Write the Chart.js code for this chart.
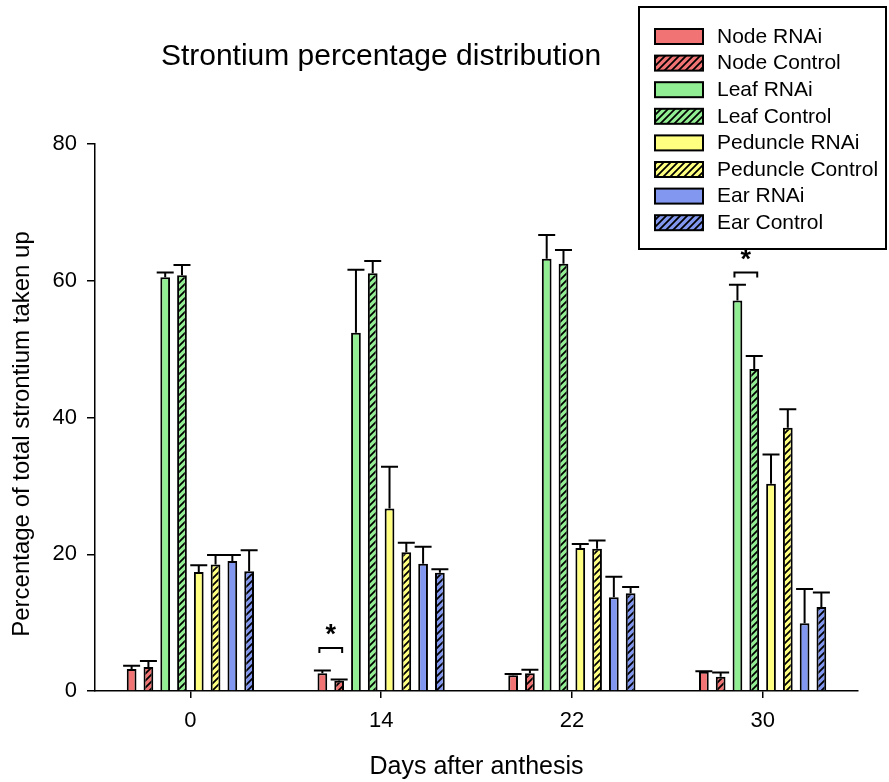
<!DOCTYPE html>
<html>
<head>
<meta charset="utf-8">
<script src="https://cdn.jsdelivr.net/npm/chart.js@4.4.1/dist/chart.umd.min.js"></script>
<style>
  body { margin: 0; background: #fff; }
  #wrap { width: 889px; height: 782px; }
</style>
</head>
<body>
<div id="wrap"><canvas id="sr-chart"></canvas></div>
<script>
// data
const days = ['0', '14', '22', '30'];

const nodeRnai = [3.2, 2.6, 2.3, 2.8];
const nodeControl = [3.5, 1.5, 2.6, 2.1];
const leafRnai = [60.5, 52.4, 63.2, 57.1];
const leafControl = [60.8, 61.1, 62.5, 47.1];
const peduncleRnai = [17.4, 26.7, 20.9, 30.3];
const peduncleControl = [18.5, 20.3, 20.8, 38.5];
const earRnai = [19.0, 18.6, 13.7, 9.9];
const earControl = [17.5, 17.3, 14.3, 12.3];

// upper error (SE) for each series
const nodeRnaiErr = [0.5, 0.4, 0.2, 0.1];
const nodeControlErr = [0.9, 0.2, 0.5, 0.6];
const leafRnaiErr = [0.7, 9.2, 3.5, 2.3];
const leafControlErr = [1.5, 1.8, 2.0, 1.9];
const peduncleRnaiErr = [1.0, 6.1, 0.6, 4.3];
const peduncleControlErr = [1.4, 1.4, 1.2, 2.7];
const earRnaiErr = [0.9, 2.5, 3.0, 5.0];
const earControlErr = [3.1, 0.5, 0.9, 2.1];

// significance marks: category index, the two datasets, bracket height
const sigCategory = [1, 3];
const sigPairA = [0, 2];
const sigPairB = [1, 3];
const sigLevel = [6.3, 61.2];

const chartTitle = 'Strontium percentage distribution';
const yTitle = 'Percentage of total strontium taken up';
const xTitle = 'Days after anthesis';

const RED = '#f27373';
const GREEN = '#92ee92';
const YELLOW = '#ffff80';
const BLUE = '#8298f0';
const FONT = '"Liberation Sans", Arial, sans-serif';

// diagonal hatch like the "Control" bars
function hatch(color) {
    const s = 7;
    const c = document.createElement('canvas');
    c.width = s; c.height = s;
    const g = c.getContext('2d');
    g.fillStyle = color;
    g.fillRect(0, 0, s, s);
    g.strokeStyle = '#000';
    g.lineWidth = 1.8;
    g.beginPath();
    g.moveTo(0, s); g.lineTo(s, 0);
    g.moveTo(-2, 2); g.lineTo(2, -2);
    g.moveTo(s - 2, s + 2); g.lineTo(s + 2, s - 2);
    g.stroke();
    return g.createPattern(c, 'repeat');
}

function series(label, data, err, color, striped) {
    return {
        label: label,
        data: data,
        errors: err,
        backgroundColor: striped ? hatch(color) : color,
        borderColor: '#000',
        borderWidth: 2,
        borderSkipped: 'bottom',
        barPercentage: 0.58,
        categoryPercentage: 0.704
    };
}

// upper error whiskers with caps
const errorBars = {
    id: 'errorBars',
    afterDatasetsDraw(chart) {
        const ctx = chart.ctx;
        const y = chart.scales.y;
        ctx.save();
        ctx.strokeStyle = '#000';
        ctx.lineWidth = 2;
        chart.data.datasets.forEach((ds, i) => {
            chart.getDatasetMeta(i).data.forEach((bar, j) => {
                const top = y.getPixelForValue(ds.data[j] + ds.errors[j]);
                ctx.beginPath();
                ctx.moveTo(bar.x, bar.y);
                ctx.lineTo(bar.x, top);
                ctx.moveTo(bar.x - 8.5, top);
                ctx.lineTo(bar.x + 8.5, top);
                ctx.stroke();
            });
        });
        ctx.restore();
    }
};

// brackets with asterisks
const sigMarks = {
    id: 'sigMarks',
    afterDatasetsDraw(chart) {
        const ctx = chart.ctx;
        const y = chart.scales.y;
        ctx.save();
        ctx.strokeStyle = '#000';
        ctx.fillStyle = '#000';
        ctx.lineWidth = 2;
        sigCategory.forEach((cat, k) => {
            const x1 = chart.getDatasetMeta(sigPairA[k]).data[cat].x - 3;
            const x2 = chart.getDatasetMeta(sigPairB[k]).data[cat].x + 3;
            const yy = y.getPixelForValue(sigLevel[k]);
            ctx.beginPath();
            ctx.moveTo(x1, yy + 5);
            ctx.lineTo(x1, yy);
            ctx.lineTo(x2, yy);
            ctx.lineTo(x2, yy + 5);
            ctx.stroke();
            ctx.font = 'bold 27px ' + FONT;
            ctx.textAlign = 'center';
            ctx.textBaseline = 'alphabetic';
            ctx.fillText('*', (x1 + x2) / 2, yy - 5);
        });
        ctx.restore();
    }
};

// title, y-axis title and boxed legend in the top right
const decorations = {
    id: 'decorations',
    afterDraw(chart) {
        const ctx = chart.ctx;
        ctx.save();
        ctx.fillStyle = '#000';
        ctx.font = '30px ' + FONT;
        ctx.textAlign = 'center';
        ctx.textBaseline = 'alphabetic';
        ctx.fillText(chartTitle, 381, 65);

        ctx.save();
        ctx.translate(22, 434);
        ctx.rotate(-Math.PI / 2);
        ctx.font = '24px ' + FONT;
        ctx.textBaseline = 'middle';
        ctx.fillText(yTitle, 0, 0);
        ctx.restore();

        const bx = 639, by = 7, bw = 247, bh = 242;
        ctx.fillStyle = '#fff';
        ctx.fillRect(bx, by, bw, bh);
        ctx.strokeStyle = '#000';
        ctx.lineWidth = 2;
        ctx.strokeRect(bx, by, bw, bh);

        ctx.font = '21px ' + FONT;
        ctx.textAlign = 'left';
        ctx.textBaseline = 'middle';
        chart.data.datasets.forEach((ds, i) => {
            const cy = 36 + i * 26.6;
            ctx.fillStyle = ds.backgroundColor;
            ctx.fillRect(655, cy - 7, 48, 15);
            ctx.lineWidth = 2;
            ctx.strokeRect(655, cy - 7, 48, 15);
            ctx.fillStyle = '#000';
            ctx.fillText(ds.label, 717, cy + 1);
        });
        ctx.restore();
    }
};

new Chart(document.getElementById('sr-chart'), {
    type: 'bar',
    data: {
        labels: days,
        datasets: [
            series('Node RNAi', nodeRnai, nodeRnaiErr, RED, false),
            series('Node Control', nodeControl, nodeControlErr, RED, true),
            series('Leaf RNAi', leafRnai, leafRnaiErr, GREEN, false),
            series('Leaf Control', leafControl, leafControlErr, GREEN, true),
            series('Peduncle RNAi', peduncleRnai, peduncleRnaiErr, YELLOW, false),
            series('Peduncle Control', peduncleControl, peduncleControlErr, YELLOW, true),
            series('Ear RNAi', earRnai, earRnaiErr, BLUE, false),
            series('Ear Control', earControl, earControlErr, BLUE, true)
        ]
    },
    options: {
        responsive: true,
        maintainAspectRatio: false,
        animation: false,
        layout: { padding: { top: 144, right: 31, left: 0, bottom: 0 } },
        plugins: {
            legend: { display: false },
            tooltip: { enabled: false }
        },
        scales: {
            x: {
                afterFit: (scale) => { scale.height = 91; },
                grid: {
                    offset: false,
                    drawOnChartArea: false,
                    color: '#000',
                    lineWidth: 1.5,
                    tickLength: 7
                },
                border: { display: true, color: '#000', width: 1.5 },
                ticks: { color: '#000', font: { family: FONT, size: 22 }, padding: 10 },
                title: {
                    display: true,
                    text: xTitle,
                    color: '#000',
                    font: { family: FONT, size: 25 },
                    padding: { top: 0, bottom: 0 }
                }
            },
            y: {
                min: 0,
                max: 80,
                afterFit: (scale) => { scale.width = 95; },
                grid: {
                    drawOnChartArea: false,
                    color: '#000',
                    lineWidth: 1.5,
                    tickLength: 8
                },
                border: { display: true, color: '#000', width: 1.5 },
                ticks: { stepSize: 20, color: '#000', font: { family: FONT, size: 22 }, padding: 10 }
            }
        }
    },
    plugins: [errorBars, sigMarks, decorations]
});
</script>
</body>
</html>
